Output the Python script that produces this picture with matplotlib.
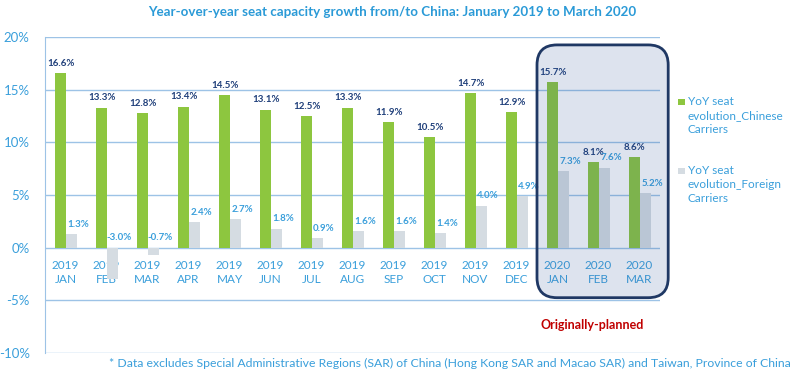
import matplotlib

matplotlib.use("Agg")
import matplotlib.pyplot as plt  # noqa: E402
import numpy as np  # noqa: E402
from matplotlib.patches import FancyBboxPatch, Rectangle  # noqa: E402
from matplotlib.ticker import FuncFormatter  # noqa: E402

years = ["2019"] * 12 + ["2020"] * 3
months = ["JAN", "FEB", "MAR", "APR", "MAY", "JUN", "JUL", "AUG", "SEP", "OCT", "NOV", "DEC",
          "JAN", "FEB", "MAR"]
chinese = [16.6, 13.3, 12.8, 13.4, 14.5, 13.1, 12.5, 13.3, 11.9, 10.5, 14.7, 12.9, 15.7, 8.1, 8.6]
foreign = [1.3, -3.0, -0.7, 2.4, 2.7, 1.8, 0.9, 1.6, 1.6, 1.4, 4.0, 4.9, 7.3, 7.6, 5.2]
planned = [12, 13, 14]  # originally-planned months (index)

GREEN = "#8DC63F"
GREY = "#D5DCE2"
BLUE = "#3A9FDB"
NAVY = "#1F3F7A"
GRID = "#9DC3E6"

plt.rcParams["font.family"] = ["Lato", "DejaVu Sans"]

fig = plt.figure(figsize=(8, 3.75), dpi=100)
ax = fig.add_axes([0.05625, 0.0587, 0.76875, 0.8426])

x = np.arange(len(months))
w = 0.27
ax.bar(x - w / 2 + 0.02, chinese, w, color=GREEN, zorder=2)
ax.bar(x + w / 2 + 0.02, foreign, w, color=GREY, zorder=2)

for xi, v in zip(x, chinese):
    ax.text(xi - w / 2 + 0.02, v + 0.5, f"{v:.1f}%", ha="center", va="bottom",
            fontsize=7, fontweight="bold", color=NAVY, zorder=5)
for xi, v in zip(x, foreign):
    ax.text(xi + w / 2 + 0.17, max(v, 0) + 0.5, f"{v:.1f}%", ha="center", va="bottom",
            fontsize=7, fontweight="bold", color=BLUE, zorder=5)

ax.set_xlim(-0.5, len(months) - 0.5)
ax.set_ylim(-10, 20)
ax.set_yticks(np.arange(-10, 21, 5))
ax.yaxis.set_major_formatter(FuncFormatter(lambda v, _: f"{v:.0f}%"))
ax.grid(axis="y", color=GRID, linewidth=1, zorder=1)
ax.set_axisbelow(True)

ax.set_xticks(x)
ax.set_xticklabels([f"{y}\n{m}" for y, m in zip(years, months)])
ax.spines["bottom"].set_position(("data", 0))
ax.spines["bottom"].set_visible(False)
for s in ("top", "right"):
    ax.spines[s].set_visible(False)
ax.spines["left"].set_color(GRID)
ax.tick_params(axis="x", length=0, pad=9, labelsize=8.5, labelcolor=BLUE)
ax.tick_params(axis="y", length=0, pad=11, labelsize=9.5, labelcolor=BLUE)
for t in ax.get_xticklabels():
    t.set_linespacing(1.35)

# highlight box around the originally-planned months
x0, y0 = ax.transData.transform((planned[0] - 0.5, -4.75))
x1, y1 = ax.transData.transform((planned[-1] + 0.7, 19.25))
r = 20
box = FancyBboxPatch((x0 + r, y0 + r), x1 - x0 - 2 * r, y1 - y0 - 2 * r,
                     boxstyle=f"round,pad={r}", transform=None,
                     facecolor=(0.184, 0.333, 0.592, 0.16), edgecolor="#1F3864",
                     linewidth=2, zorder=3, clip_on=False)
fig.patches.append(box)
ax.text(np.mean(planned) - 0.15, -7.3, "Originally-planned", ha="center", va="center",
        fontsize=9, fontweight="bold", color="#C00000")

# legend
legend_items = [(GREEN, "YoY seat\nevolution_Chinese\nCarriers", 0.727),
                (GREY, "YoY seat\nevolution_Foreign\nCarriers", 0.543)]
for col, lab, ty in legend_items:
    fig.patches.append(Rectangle((0.8475, ty - 0.008), 0.0085, 0.018,
                                 transform=fig.transFigure, facecolor=col, edgecolor="none"))
    fig.text(0.86, ty + 0.017, lab, ha="left", va="top", fontsize=8.5, color=BLUE,
             linespacing=1.35)

fig.text(0.49, 0.968, "Year-over-year seat capacity growth from/to China: January 2019 to March 2020",
         ha="center", va="center", fontsize=9.6, fontweight="bold", color="#2A9AD7")
fig.text(0.988, 0.032, "* Data excludes Special Administrative Regions (SAR) of China "
         "(Hong Kong SAR and Macao SAR) and Taiwan, Province of China",
         ha="right", va="center", fontsize=8.8, color=BLUE)

fig.savefig("out.png", dpi=100)
